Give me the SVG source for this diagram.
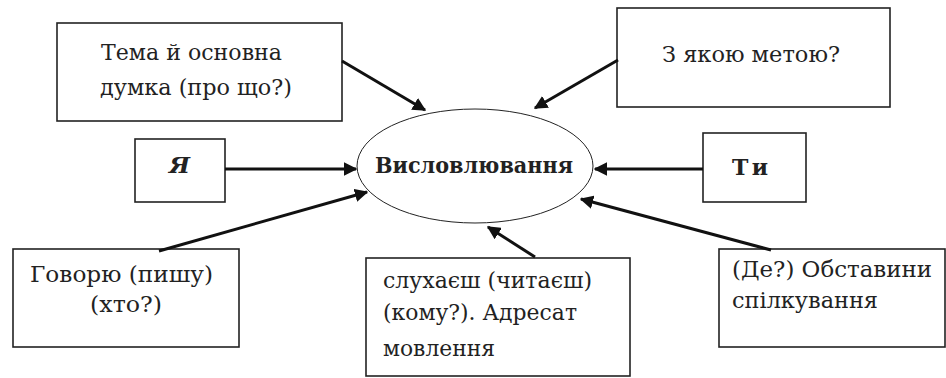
<svg xmlns="http://www.w3.org/2000/svg" width="946" height="378" viewBox="0 0 946 378">
<style>
.box{fill:#fff;stroke:#222;stroke-width:1.6}
.t{font-family:"DejaVu Serif","Liberation Serif",serif;font-size:22px;fill:#222}
.b{font-weight:bold}
.c{stroke:#111;stroke-width:3;fill:none;marker-end:url(#ah)}
</style>
<defs>
<marker id="ah" viewBox="0 0 10 10" refX="9" refY="5" markerWidth="4.5" markerHeight="4.5" orient="auto" markerUnits="strokeWidth">
<path d="M0,0 L10,5 L0,10 z" fill="#111"/>
</marker>
</defs>
<rect width="946" height="378" fill="#fff"/>
<g id="center">
<ellipse cx="475" cy="166" rx="118" ry="57" fill="#fff" stroke="#222" stroke-width="1"/>
<text class="t b" x="375" y="173" textLength="198" lengthAdjust="spacingAndGlyphs">Висловлювання</text>
</g>
<g id="tema">
<rect class="box" x="57" y="23" width="285" height="98"/>
<text class="t" x="101" y="60" textLength="181" lengthAdjust="spacingAndGlyphs">Тема й основна</text>
<text class="t" x="100" y="95" textLength="192" lengthAdjust="spacingAndGlyphs">думка (про що?)</text>
</g>
<g id="meta">
<rect class="box" x="617" y="8" width="273" height="99"/>
<text class="t" x="662" y="62" textLength="178" lengthAdjust="spacingAndGlyphs">З якою метою?</text>
</g>
<g id="ya">
<rect class="box" x="135" y="139" width="90" height="63"/>
<text class="t b" x="169" y="173" font-style="italic" textLength="21" lengthAdjust="spacingAndGlyphs">Я</text>
</g>
<g id="ty">
<rect class="box" x="703" y="133" width="103" height="69"/>
<text class="t b" x="732" y="175" textLength="36" lengthAdjust="spacing">Ти</text>
</g>
<g id="govoryu">
<rect class="box" x="13" y="249" width="226" height="98"/>
<text class="t" x="30" y="282" textLength="183" lengthAdjust="spacingAndGlyphs">Говорю (пишу)</text>
<text class="t" x="90" y="312" textLength="72" lengthAdjust="spacingAndGlyphs">(хто?)</text>
</g>
<g id="adresat">
<rect class="box" x="366" y="258" width="264" height="118"/>
<text class="t" x="383" y="288" textLength="209" lengthAdjust="spacingAndGlyphs">слухаєш (читаєш)</text>
<text class="t" x="383" y="320" textLength="194" lengthAdjust="spacingAndGlyphs">(кому?). Адресат</text>
<text class="t" x="383" y="356" textLength="112" lengthAdjust="spacingAndGlyphs">мовлення</text>
</g>
<g id="obstavyny">
<rect class="box" x="719" y="249" width="226" height="98"/>
<text class="t" x="732" y="277" textLength="200" lengthAdjust="spacingAndGlyphs">(Де?) Обставини</text>
<text class="t" x="732" y="308" textLength="146" lengthAdjust="spacingAndGlyphs">спілкування</text>
</g>
<g id="connectors">
<line class="c" x1="342" y1="61" x2="425" y2="110"/>
<line class="c" x1="618" y1="60" x2="535" y2="108"/>
<line class="c" x1="225" y1="169" x2="356" y2="169"/>
<line class="c" x1="703" y1="169" x2="595" y2="169"/>
<line class="c" x1="159" y1="251" x2="367" y2="192"/>
<line class="c" x1="535" y1="257" x2="488" y2="227"/>
<line class="c" x1="771" y1="250" x2="581" y2="199"/>
</g>
</svg>
